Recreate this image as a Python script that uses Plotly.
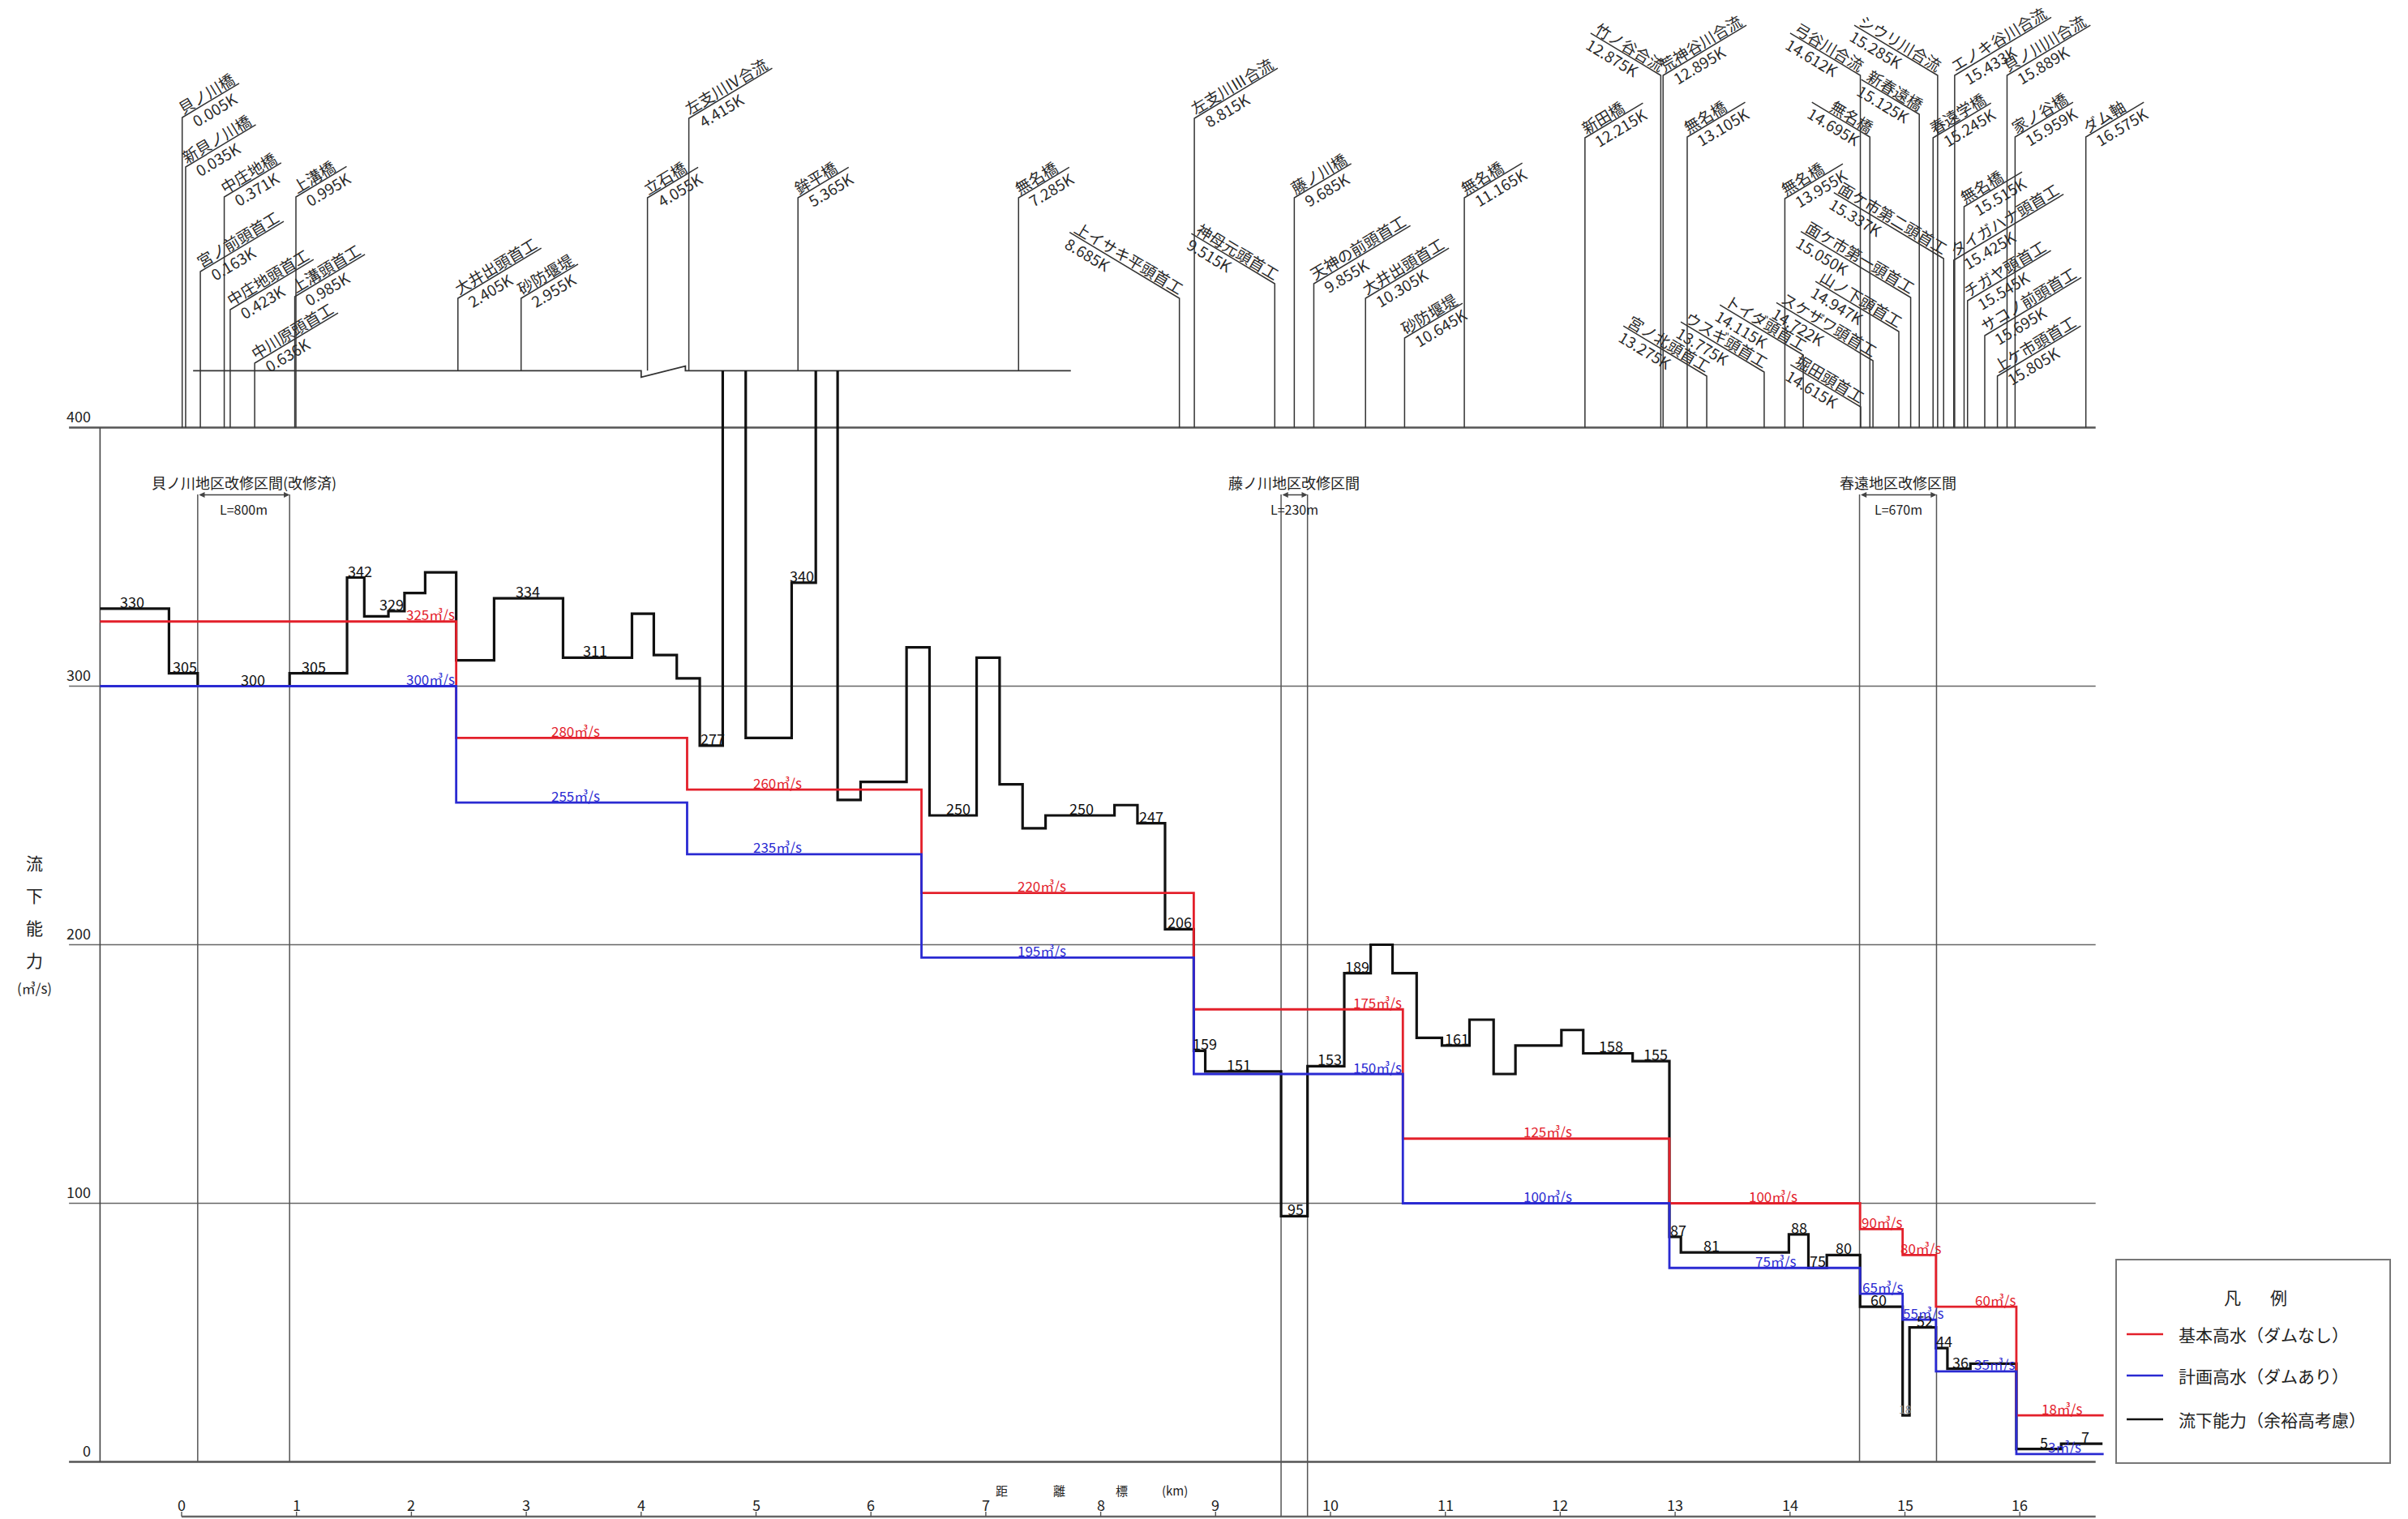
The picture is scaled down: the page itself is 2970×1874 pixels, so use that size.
import math
import plotly.graph_objects as go

FONT = "Noto Sans CJK JP"

# ---------------------------------------------------------------- data
# 流下能力（余裕高考慮）: section breakpoints [km] and capacity of each section [m3/s]
CAP_KM = [-0.71, -0.11, 0.14, 0.94, 1.44, 1.59, 1.80, 1.94, 2.12, 2.39,
          2.72, 3.32, 3.92, 4.11, 4.31, 4.51, 4.71, 4.91, 5.31, 5.52,
          5.71, 5.91, 6.31, 6.51, 6.92, 7.12, 7.32, 7.52, 8.12, 8.32,
          8.56, 8.81, 8.91, 9.57, 9.80, 10.12, 10.35, 10.54, 10.75, 10.97,
          11.21, 11.42, 11.61, 12.01, 12.20, 12.63, 12.95, 13.05, 13.99, 14.16,
          14.32, 14.61, 14.98, 15.04, 15.27, 15.37, 15.57, 15.97, 16.36, 16.72]
# None = capacity beyond the vertical scale
CAP_VAL = [330, 305, 300, 305, 342, 327, 329, 336, 344, 310,
           334, 311, 328, 312, 303, 277, None, 280, 340, None,
           256, 263, 315, 250, 311, 262, 245, 250, 254, 247,
           206, 159, 151, 95, 153, 189, 200, 189, 164, 161,
           171, 150, 161, 167, 158, 155, 87, 81, 88, 75,
           80, 60, 18, 52, 44, 36, 38, 5, 7]
# km at which a capacity value is written
CAP_LABEL_KM = [-0.43, 0.03, 0.62, 1.15, 1.55, 1.83, 3.01, 3.60, 4.62, 5.40,
                6.76, 7.83, 8.44, 8.69, 8.905, 9.20, 9.70, 9.99, 10.23, 11.10,
                12.44, 12.83, 13.03, 13.32, 14.08, 14.24, 14.47, 14.77, 15.00, 15.17,
                15.34, 15.48, 16.21, 16.57]

# 基本高水（ダムなし） and 計画高水（ダムあり）
FLOW_KM = [-0.71, 2.39, 4.40, 6.44, 8.81, 10.63, 12.95, 14.61, 14.98, 15.27, 15.97, 16.73]
BASIC_VAL = [325, 280, 260, 220, 175, 125, 100, 90, 80, 60, 18]
PLAN_VAL = [300, 255, 235, 195, 150, 100, 75, 65, 55, 35, 3]
BASIC_LABEL_KM = [2.17, 3.43, 5.19, 7.49, 10.41, 11.89, 13.85, 14.80, 15.14, 15.79, 16.37]
PLAN_LABEL_KM = [2.17, 3.43, 5.19, 7.49, 10.41, 11.89, 13.88, 14.81, 15.16, 15.78, 16.39]

# structures along the river
STATION_NAME = ["貝ノ川橋", "新貝ノ川橋", "宮ノ前頭首工", "中庄地橋", "中庄地頭首工",
                "中川原頭首工", "上溝頭首工", "上溝橋", "大井出頭首工", "砂防堰堤",
                "立石橋", "左支川Ⅳ合流", "鉾平橋", "無名橋", "上イサキ平頭首工",
                "左支川Ⅲ合流", "神母元頭首工", "藤ノ川橋", "天神の前頭首工", "大井出頭首工",
                "砂防堰堤", "無名橋", "新田橋", "竹ノ谷合流", "荒神谷川合流",
                "無名橋", "宮ノ北頭首工", "ウスギ頭首工", "無名橋", "トイダ頭首工",
                "弓谷川合流", "堀田頭首工", "無名橋", "スケザワ頭首工", "山ノ下頭首工",
                "面ケ市第一頭首工", "新春遠橋", "春遠学橋", "シウリ川合流", "面ケ市第二頭首工",
                "タイガハナ頭首工", "エノキ谷川合流", "無名橋", "チガヤ頭首工", "サコノ前頭首工",
                "上ケ市頭首工", "貝ノ川川合流", "家ノ谷橋", "ダム軸"]
STATION_KM = [0.005, 0.035, 0.163, 0.371, 0.423,
              0.636, 0.985, 0.995, 2.405, 2.955,
              4.055, 4.415, 5.365, 7.285, 8.685,
              8.815, 9.515, 9.685, 9.855, 10.305,
              10.645, 11.165, 12.215, 12.875, 12.895,
              13.105, 13.275, 13.775, 13.955, 14.115,
              14.612, 14.615, 14.695, 14.722, 14.947,
              15.050, 15.125, 15.245, 15.285, 15.337,
              15.425, 15.433, 15.515, 15.545, 15.695,
              15.805, 15.889, 15.959, 16.575]

# improvement reaches
REACH_NAME = ["貝ノ川地区改修区間(改修済)", "藤ノ川地区改修区間", "春遠地区改修区間"]
REACH_START = [0.14, 9.57, 14.605]
REACH_END = [0.94, 9.80, 15.275]

Y_TICKS = [0, 100, 200, 300, 400]
X_TICKS = list(range(0, 17))

LEGEND_TEXT = ["基本高水（ダムなし）", "計画高水（ダムあり）", "流下能力（余裕高考慮）"]

# ---------------------------------------------------------------- layout helpers
W, H = 2970, 1874
KM_PX = 141.7          # pixels per km
UNIT_PX = 3.19         # pixels per m3/s
ORIGIN_X = 224.0       # pixel column of km 0
ORIGIN_Y = 1803.5      # pixel row of 0 m3/s

RED = "#e3202b"
BLUE = "#2a2ad2"
BLACK = "#111111"
GRID = "#666666"
INK = "#222222"

FRAME_LEFT = -0.71
GRID_LEFT = -0.98
GRID_RIGHT = 16.66
UPPER_REF = 422        # level of the upper reference line above the chart


def km_of(px):
    return (px - ORIGIN_X) / KM_PX


def val_of(py):
    return (ORIGIN_Y - py) / UNIT_PX


def px_of(km):
    return ORIGIN_X + km * KM_PX


def py_of(v):
    return ORIGIN_Y - v * UNIT_PX


def text_width(s, size):
    em = 0.0
    for ch in s:
        if ord(ch) >= 0x2100:
            em += 1.0
        elif ch.isdigit():
            em += 0.555
        elif ch == ".":
            em += 0.28
        elif ch == "K":
            em += 0.6
        else:
            em += 0.55
    return em * size


fig = go.Figure()
annotations = []
shapes = []


def lines(xs, ys, color, width, shape="linear"):
    fig.add_trace(go.Scatter(x=xs, y=ys, mode="lines",
                             line=dict(color=color, width=width, shape=shape),
                             hoverinfo="skip", showlegend=False))


def text(x, y, s, size, color=INK, xanchor="center", yanchor="middle",
         angle=0, yshift=0):
    annotations.append(dict(x=x, y=y, xref="x", yref="y", text=s, showarrow=False,
                            font=dict(family=FONT, size=size, color=color),
                            xanchor=xanchor, yanchor=yanchor, textangle=angle,
                            yshift=yshift, borderpad=0))


# ---------------------------------------------------------------- grid / frame
for v in Y_TICKS:
    heavy = v in (0, 400)
    lines([GRID_LEFT, GRID_RIGHT], [v, v], "#555555" if heavy else GRID,
          2.6 if heavy else 1.5)
    text(km_of(113), v, str(v), 18, xanchor="right", yanchor="bottom", yshift=1)
lines([FRAME_LEFT, FRAME_LEFT], [0, 400], "#444444", 1.6)

# y-axis title written vertically
for i, ch in enumerate("流下能力"):
    text(km_of(42), val_of(1064 + 40 * i), ch, 21)
text(km_of(42), val_of(1218), "(㎥/s)", 17)

# distance axis at the bottom
axis_v = val_of(1871)
lines([0, GRID_RIGHT], [axis_v, axis_v], "#666666", 2.6)
tx, ty = [], []
for k in X_TICKS:
    tx += [k, k, None]
    ty += [axis_v, val_of(1865), None]
    text(k, val_of(1856), str(k), 18)
lines(tx, ty, "#555555", 1.4)
for ch, px in zip(["距", "離", "標", "(km)"], [1235, 1306, 1383, 1449]):
    text(km_of(px), val_of(1838), ch, 15)

# ---------------------------------------------------------------- improvement reaches
rx, ry = [], []
for name, a, b in zip(REACH_NAME, REACH_START, REACH_END):
    bottom = axis_v if name.startswith("藤") else 0
    for k in (a, b):
        rx += [k, k, None]
        ry += [val_of(610), bottom, None]
    mid = (a + b) / 2
    text(mid, val_of(595), name, 18)
    text(mid, val_of(628), "L=%dm" % round((b - a) * 1000), 16)
    annotations.append(dict(x=b, y=val_of(610.5), ax=a, ay=val_of(610.5),
                            xref="x", yref="y", axref="x", ayref="y", text="",
                            showarrow=True, arrowhead=2, arrowside="end+start",
                            arrowsize=1.1, arrowwidth=1.3, arrowcolor="#444444",
                            standoff=0, startstandoff=0))
lines(rx, ry, "#555555", 1.5)

# ---------------------------------------------------------------- structure leaders
UPPER_FOOT = {8, 9, 10, 11, 12, 13}
LEFT_SIDE = {14, 16, 23, 26, 27, 29, 30, 31, 32, 33, 34, 35, 36, 38, 39}
LEADER_TOP_PX = [145, 206, 335, 243, 382, 448, 366, 243, 368, 368,
                 244, 146, 244, 244, 368, 146, 350, 244, 350, 368,
                 417, 244, 170, 93, 93, 169, 464, 459, 245, 438,
                 93, 502, 169, 445, 409, 367, 141, 170, 93, 319,
                 321, 93, 255, 371, 414, 464, 93, 169, 169]

# upper reference line with a break mark
lines([0.10, 4.00, 4.00, 4.385, 4.385, 7.74],
      [UPPER_REF, UPPER_REF, UPPER_REF - 2.5, UPPER_REF + 1.8, UPPER_REF, UPPER_REF],
      "#333333", 1.8)

FS = 19
ANG = 31
ca, sa = math.cos(math.radians(ANG)), math.sin(math.radians(ANG))
OFF = 11
lx, ly = [], []
for i, (name, km) in enumerate(zip(STATION_NAME, STATION_KM)):
    x0 = px_of(km)
    top = LEADER_TOP_PX[i]
    foot = py_of(UPPER_REF if i in UPPER_FOOT else 400)
    ktxt = "%.3fK" % km
    wn, wk = text_width(name, FS), text_width(ktxt, FS)
    length = max(wn + 6, wk + 14)
    if i in LEFT_SIDE:
        ex, ey = x0 - length * ca, top - length * sa
        ux, uy = ca, sa
        nx, ny = sa, -ca
        nc = (x0 - (3 + wn / 2) * ux + OFF * nx, top - (3 + wn / 2) * uy + OFF * ny)
        kc = (ex + (4 + wk / 2) * ux - OFF * nx, ey + (4 + wk / 2) * uy - OFF * ny)
        angle = ANG
    else:
        ex, ey = x0 + length * ca, top - length * sa
        ux, uy = ca, -sa
        nx, ny = -sa, -ca
        nc = (x0 + (3 + wn / 2) * ux + OFF * nx, top + (3 + wn / 2) * uy + OFF * ny)
        kc = (x0 + (10 + wk / 2) * ux - OFF * nx, top + (10 + wk / 2) * uy - OFF * ny)
        angle = -ANG
    lx += [km, km, km_of(ex), None]
    ly += [val_of(foot), val_of(top), val_of(ey), None]
    text(km_of(nc[0]), val_of(nc[1]), name, FS, color="#2a2a2a", angle=angle)
    text(km_of(kc[0]), val_of(kc[1]), ktxt, FS, color="#2a2a2a", angle=angle)
lines(lx, ly, "#333333", 1.5)

# ---------------------------------------------------------------- flow profiles
# capacity: sections beyond the scale rise to the upper reference line and break there
cx, cy = [], []
for j, v in enumerate(CAP_VAL):
    a, b = CAP_KM[j], CAP_KM[j + 1]
    if v is None:
        cx += [a, None, b]
        cy += [UPPER_REF, None, UPPER_REF]
    else:
        cx += [a, b]
        cy += [v, v]
lines(cx, cy, BLACK, 3.2)
lines(FLOW_KM, BASIC_VAL + [BASIC_VAL[-1]], RED, 2.8, "hv")
lines(FLOW_KM, PLAN_VAL + [PLAN_VAL[-1]], BLUE, 2.8, "hv")


def section_index(breaks, k):
    for j in range(len(breaks) - 1):
        if breaks[j] <= k < breaks[j + 1]:
            return j
    return len(breaks) - 2


for k in CAP_LABEL_KM:
    j = section_index(CAP_KM, k)
    v = CAP_VAL[j]
    # a value inside a very narrow dip is written small and faint
    narrow = CAP_KM[j + 1] - CAP_KM[j] < 0.08
    text(k, v, str(v), 14 if narrow else 18, color="#8a8a8a" if narrow else BLACK,
         yshift=8 if narrow else 9)
for k in BASIC_LABEL_KM:
    v = BASIC_VAL[section_index(FLOW_KM, k)]
    text(k, v, "%d㎥/s" % v, 17, color=RED, yshift=9)
for k in PLAN_LABEL_KM:
    v = PLAN_VAL[section_index(FLOW_KM, k)]
    text(k, v, "%d㎥/s" % v, 17, color=BLUE, yshift=9)

# ---------------------------------------------------------------- legend box
shapes.append(dict(type="rect", xref="x", yref="y",
                   x0=km_of(2610), x1=km_of(2948), y0=val_of(1805), y1=val_of(1554),
                   line=dict(color="#777777", width=2), fillcolor="white", layer="below"))
text(km_of(2753), val_of(1600), "凡", 21)
text(km_of(2810), val_of(1600), "例", 21)
for label, color, py in zip(LEGEND_TEXT, [RED, BLUE, BLACK], [1646, 1697, 1751]):
    lines([km_of(2623), km_of(2668)], [val_of(py), val_of(py)], color, 2.6)
    text(km_of(2686), val_of(py), label, 21, xanchor="left")

fig.update_layout(
    width=W, height=H, autosize=False,
    margin=dict(l=0, r=0, t=0, b=0, pad=0),
    paper_bgcolor="white", plot_bgcolor="white",
    showlegend=False,
    xaxis=dict(range=[km_of(0), km_of(W)], visible=False, fixedrange=True),
    yaxis=dict(range=[val_of(H), val_of(0)], visible=False, fixedrange=True),
    annotations=annotations,
    shapes=shapes,
    font=dict(family=FONT),
)

fig.write_html("out.html", config={"displayModeBar": False})
